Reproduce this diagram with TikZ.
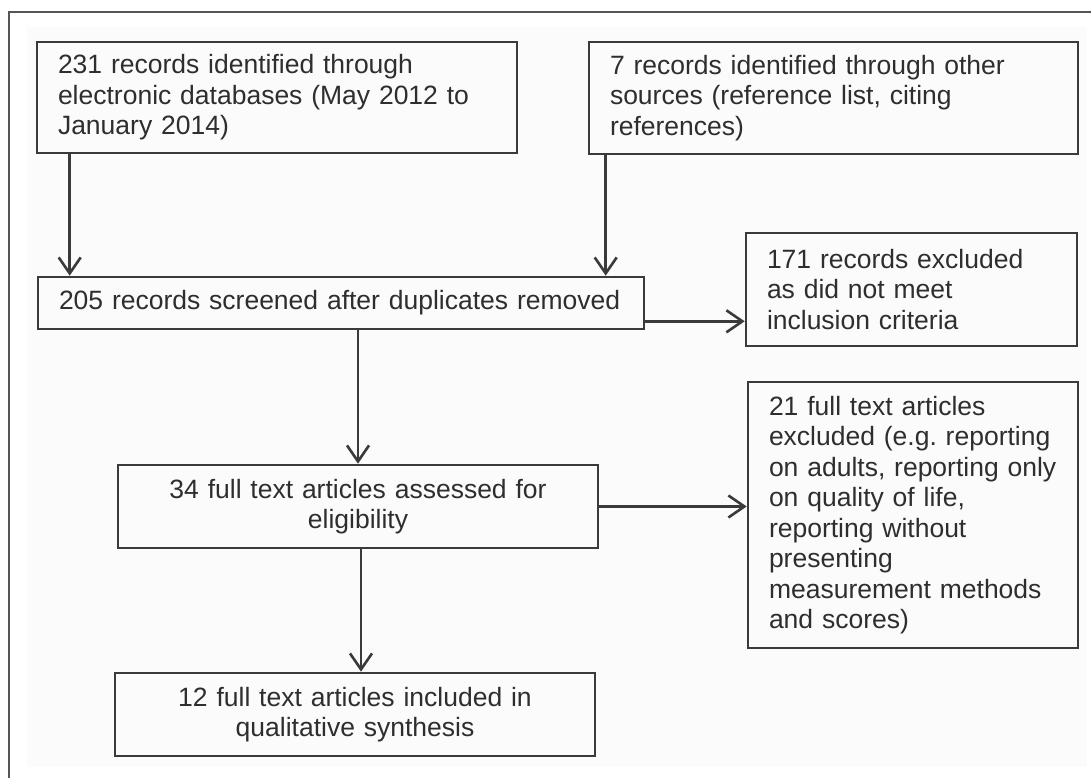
\documentclass[tikz,border=0pt]{standalone}
\usepackage{fontspec}
\setmainfont{Liberation Sans}
\usetikzlibrary{arrows.meta}
\definecolor{linec}{HTML}{3A3A3A}
\definecolor{textc}{HTML}{2E2E2E}
\definecolor{framec}{HTML}{555555}
\definecolor{bgc}{HTML}{FBFBFB}
\frenchspacing
\begin{document}
\begin{tikzpicture}[x=1pt,y=-1pt,
  box/.style={draw=linec, line width=2.6pt, rectangle, text=textc, inner ysep=0pt,
    font=\fontsize{26.5}{30.5}\selectfont},
  leftbox/.style={box, align=left, inner xsep=21pt},
  midbox/.style={box, align=center, inner xsep=10pt},
  arr/.style={draw=linec, line width=2.6pt, -{Straight Barb[length=16pt,width=22pt,line width=2.6pt]}}]
\useasboundingbox (0,0) rectangle (1091,778);
\fill[white] (0,0) rectangle (1091,778);
\fill[bgc] (27,27) rectangle (1087,767);
\draw[framec, line width=2pt] (9,778) -- (9,12) -- (1091,12);

\node[leftbox, text width=438pt, minimum width=480pt, minimum height=111pt] (A) at (277,97.5)
  {231 records identified through\\electronic databases (May 2012 to\\January 2014)};
\node[leftbox, text width=447pt, minimum width=489pt, minimum height=112pt] (C) at (833.5,98)
  {7 records identified through other\\sources (reference list, citing\\references)};
\node[leftbox, text width=564pt, minimum width=606pt, minimum height=52pt] (B) at (341,303)
  {205 records screened after duplicates removed};
\node[leftbox, text width=289pt, minimum width=331pt, minimum height=113pt] (D) at (911.5,289.5)
  {171 records excluded\\as did not meet\\inclusion criteria};
\node[midbox, text width=460pt, minimum width=480pt, minimum height=83pt] (E) at (358,506.5)
  {34 full text articles assessed for\\eligibility};
\node[midbox, text width=460pt, minimum width=480pt, minimum height=83pt] (F) at (355,714.5)
  {12 full text articles included in\\qualitative synthesis};
\node[leftbox, text width=288pt, minimum width=330pt, minimum height=266pt] (G) at (913,515)
  {21 full text articles\\excluded (e.g. reporting\\on adults, reporting only\\on quality of life,\\reporting without\\presenting\\measurement methods\\and scores)};

\draw[arr] ([xshift=34pt]A.south west) -- ([xshift=34pt]A.south west |- B.north);
\draw[arr] ([xshift=18pt]C.south west) -- ([xshift=18pt]C.south west |- B.north);
\draw[arr] ([yshift=9pt]B.south east) -- ([yshift=9pt]B.south east -| D.west);
\draw[arr] (E.north |- B.south) -- (E.north);
\draw[arr] ([xshift=3pt]E.south) -- ([xshift=3pt]E.south |- F.north);
\draw[arr] (E.east) -- (E.east -| G.west);
\end{tikzpicture}
\end{document}
